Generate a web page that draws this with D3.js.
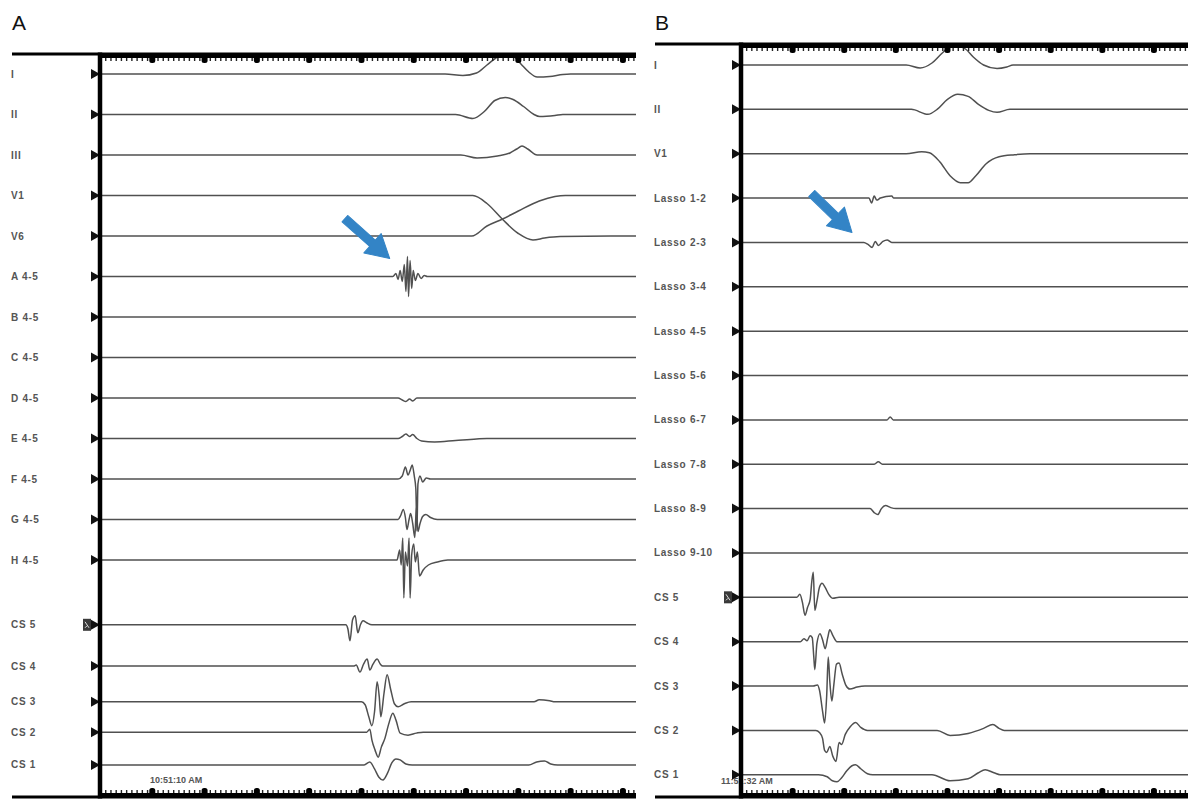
<!DOCTYPE html>
<html>
<head>
<meta charset="utf-8">
<script src="https://cdn.jsdelivr.net/npm/d3@7"></script>
<style>
  body { margin: 0; background: #fff; }
  svg { display: block; font-family: "Liberation Sans", Arial, sans-serif; }
  .lbl { font-size: 10px; font-weight: bold; fill: #555; letter-spacing: 0.7px; }
  .trace { fill: none; stroke: #505050; stroke-width: 1.5; stroke-linejoin: round; }
  .stamp { font-size: 9px; font-weight: bold; fill: #555; }
  .panel-id { font-size: 21px; fill: #111; }
</style>
</head>
<body>
<svg id="chart" width="1188" height="802"></svg>
<script>
// ---- data: panel A (ms, amplitude units) ----
const labelsA = ["I", "II", "III", "V1", "V6", "A 4-5", "B 4-5", "C 4-5", "D 4-5", "E 4-5",
                 "F 4-5", "G 4-5", "H 4-5", "CS 5", "CS 4", "CS 3", "CS 2", "CS 1"];
// channel slot on the recorder screen (row units)
const rowsA = [0, 1, 2, 3, 4, 5, 6, 7, 8, 9, 10, 11, 12, 13.6, 14.62, 15.5, 16.25, 17.06];
const tracesA = [
  [[0,0],[660,0],[694,-0.15],[720,0.1],[740,0.9],[760,1.7],[775,2.0],[790,1.8],[805,1.0],[820,0.2],[836,-0.3],[860,-0.25],[885,-0.05],[900,0],[1025,0]],
  [[0,0],[680,0],[713,-0.4],[735,0.3],[755,1.4],[775,1.7],[790,1.5],[810,0.8],[830,0],[841,-0.2],[870,-0.1],[885,0],[1025,0]],
  [[0,0],[690,0],[721,-0.3],[760,-0.1],[784,0.2],[797,0.6],[807,0.9],[818,0.6],[836,0],[1025,0]],
  [[0,0],[713,0],[740,-0.8],[770,-2.4],[800,-3.8],[828,-4.45],[850,-4.25],[880,-4.1],[1025,-4.05]],
  [[0,0],[711,0],[740,1.0],[770,1.7],[800,2.5],[840,3.5],[870,3.95],[890,4.05],[1025,4.05]],
  [[0,0],[560,0],[566,0.3],[570,-0.3],[574,0.6],[578,-0.5],[582,1.2],[585,-1.5],[588,2.0],[590,-2.0],[593,1.6],[596,-1.2],[599,0.6],[603,-0.4],[608,0.3],[614,-0.2],[620,0.1],[626,0],[1025,0]],
  [[0,0],[1025,0]],
  [[0,0],[1025,0]],
  [[0,0],[570,0],[578,-0.2],[585,-0.35],[592,-0.1],[598,-0.3],[606,0],[1025,0]],
  [[0,0],[570,0],[578,0.2],[585,0.45],[592,0.2],[598,0.4],[606,0],[615,-0.25],[640,-0.35],[680,-0.2],[720,-0.05],[740,0],[1025,0]],
  [[0,0],[570,0],[578,0.3],[584,1.2],[589,0.4],[594,1.0],[597,1.4],[601,0.3],[604,-1.0],[606,-5.2],[608,-0.5],[612,0.3],[617,-0.3],[624,0.1],[632,0],[1025,0]],
  [[0,0],[570,0],[575,0.4],[580,1.0],[584,0.2],[587,-1.0],[591,0],[594,0.6],[598,-0.4],[602,-1.8],[605,1.2],[608,-1.2],[612,-0.4],[617,0.3],[623,0.5],[632,0.2],[645,0],[1025,0]],
  [[0,0],[568,0],[573,1.0],[576,-0.5],[579,2.2],[581,-3.8],[584,0.8],[588,-0.6],[591,2.2],[593,-3.8],[596,0.5],[600,1.6],[603,-0.2],[607,0.8],[611,-1.6],[618,-1.0],[628,-0.5],[645,-0.2],[665,0],[1025,0]],
  [[0,0],[470,0],[474,-0.4],[478,-1.6],[483,0.5],[488,0.9],[493,-0.8],[498,0],[503,0.4],[510,0.2],[520,0],[1025,0]],
  [[0,0],[485,0],[490,0.1],[497,-0.6],[504,0.2],[511,0.7],[516,-0.4],[522,0.2],[530,0.7],[536,0.2],[541,0],[1025,0]],
  [[0,0],[500,0],[507,-0.3],[514,-1.5],[520,-2.4],[525,-1.0],[530,2.0],[534,0.5],[537,-1.5],[543,0.8],[549,2.7],[556,1.2],[563,-0.2],[570,-0.5],[582,-0.2],[595,0],[830,0],[840,0.2],[860,0.1],[870,0],[1025,0]],
  [[0,0],[510,0],[516,0.3],[520,-0.8],[526,-1.8],[532,-2.5],[538,-1.5],[545,-0.6],[552,0.8],[560,1.9],[566,1.2],[574,-0.1],[589,-0.3],[605,-0.1],[618,0],[1025,0]],
  [[0,0],[505,0],[516,0.3],[525,-0.4],[533,-1.2],[541,-1.5],[550,-0.8],[558,0.2],[566,0.6],[574,0.5],[585,0.1],[597,0],[820,0],[835,0.3],[850,0.4],[862,0.1],[875,0],[1025,0]]
];

// ---- data: panel B ----
const labelsB = ["I", "II", "V1", "Lasso 1-2", "Lasso 2-3", "Lasso 3-4", "Lasso 4-5", "Lasso 5-6",
                 "Lasso 6-7", "Lasso 7-8", "Lasso 8-9", "Lasso 9-10", "CS 5", "CS 4", "CS 3", "CS 2", "CS 1"];
const rowsB = [0, 1, 2, 3, 4, 5, 6, 7, 8, 9, 10, 11, 12, 13, 14, 15, 16];
const tracesB = [
  [[0,0],[320,0],[347,-0.3],[370,0.2],[390,1.2],[405,1.8],[420,1.9],[435,1.6],[450,0.8],[470,0],[496,-0.35],[515,-0.2],[527,0],[866,0]],
  [[0,0],[330,0],[362,-0.5],[380,0],[400,1.0],[420,1.5],[440,1.3],[460,0.5],[480,-0.1],[496,-0.3],[521,0],[866,0]],
  [[0,0],[320,0],[350,0.2],[365,0.1],[385,-0.8],[405,-2.2],[425,-2.9],[440,-2.9],[455,-2.2],[475,-1.0],[500,-0.3],[530,-0.1],[560,0],[866,0]],
  [[0,0],[248,0],[253,-0.5],[258,0.2],[263,-0.2],[270,0],[292,0.2],[296,0],[866,0]],
  [[0,0],[238,0],[246,-0.2],[254,-0.5],[260,0.1],[266,-0.3],[275,0.1],[283,0.25],[292,0],[866,0]],
  [[0,0],[866,0]],
  [[0,0],[866,0]],
  [[0,0],[866,0]],
  [[0,0],[283,0],[289,0.3],[295,0],[866,0]],
  [[0,0],[258,0],[266,0.25],[274,0],[866,0]],
  [[0,0],[250,0],[258,-0.4],[265,-0.6],[272,0],[280,0.3],[290,0.1],[300,0],[866,0]],
  [[0,0],[866,0]],
  [[0,0],[108,0],[114,0.3],[119,-0.5],[124,-1.8],[129,-1.0],[134,-0.2],[137,1.5],[140,2.5],[143,-1.3],[147,-0.4],[152,1.0],[157,1.4],[163,1.0],[170,0.3],[178,-0.1],[190,0],[866,0]],
  [[0,0],[115,0],[122,0.3],[128,0.1],[134,0.6],[138,0.4],[141,-1.5],[143,-2.8],[147,-0.2],[153,0.8],[158,0.2],[163,-0.7],[168,0.4],[172,1.2],[178,0.6],[186,0],[866,0]],
  [[0,0],[140,0],[148,0.1],[152,-0.4],[158,-2.5],[162,-3.7],[166,-1.0],[169,2.9],[172,0.5],[176,-1.5],[180,0.2],[185,2.2],[190,2.3],[196,1.2],[203,0.1],[211,-0.3],[225,-0.1],[240,0],[866,0]],
  [[0,0],[145,0],[152,-0.2],[158,-0.8],[162,-2.0],[166,-2.2],[172,-1.6],[178,-2.6],[184,-3.1],[190,-1.2],[195,-1.4],[202,-0.4],[212,0.4],[222,0.8],[232,0.3],[245,0],[380,0],[405,-0.5],[440,-0.3],[470,0.2],[488,0.6],[500,0.2],[510,0],[866,0]],
  [[0,0],[150,0],[167,-0.2],[177,-0.6],[186,-0.7],[195,-0.3],[205,0.4],[215,0.9],[222,1.0],[232,0.6],[245,0.1],[255,0],[370,0],[405,-0.6],[440,-0.4],[460,0.2],[473,0.5],[490,0.2],[502,0],[866,0]]
];

const spanA = [0, 1025];
const spanB = [0, 866];
const stampA = "10:51:10 AM";
const stampB = "11:51:32 AM";
const stimRow = "CS 5";

// ---- layout ----
const svg = d3.select("#chart");

const panels = [
  { id: "A", labels: labelsA, rows: rowsA, traces: tracesA, span: spanA, stamp: stampA,
    left: 12, axisX: 100, right: 636, top: 54, bottom: 797, y0: 74, rowStep: 40.5,
    idY: 30, stampX: 150, stampY: 783, arrow: { t: 554, row: 5, dy: -18, angle: 41.6, len: 60 } },
  { id: "B", labels: labelsB, rows: rowsB, traces: tracesB, span: spanB, stamp: stampB,
    left: 655, axisX: 741, right: 1188, top: 44, bottom: 797, y0: 65, rowStep: 44.36,
    idY: 30, stampX: 721, stampY: 784, arrow: { t: 215, row: 4, dy: -10, angle: 44, len: 56 } }
];

const amp = d3.scaleLinear().domain([0, 1]).range([0, -10]);

function drawPanel(p) {
  const g = svg.append("g").attr("class", "panel-" + p.id);
  const x = d3.scaleLinear().domain(p.span).range([p.axisX, p.right]);
  const rowY = d3.scaleLinear().domain([0, 1]).range([p.y0, p.y0 + p.rowStep]);

  g.append("text").attr("class", "panel-id")
    .attr("x", p.left).attr("y", p.idY).text(p.id);

  const line = d3.line()
    .x(d => x(d[0]))
    .y(d => amp(d[1]))
    .curve(d3.curveMonotoneX);

  const ch = g.selectAll("g.ch")
    .data(p.labels.map((name, i) => ({ name, row: p.rows[i], pts: p.traces[i] })))
    .join("g")
      .attr("class", "ch")
      .attr("transform", d => `translate(0,${rowY(d.row)})`);

  ch.append("path").attr("class", "trace").attr("d", d => line(d.pts));

  ch.append("text").attr("class", "lbl")
    .attr("x", p.left - 1).attr("y", 3.5)
    .text(d => d.name);

  // channel markers
  ch.append("path")
    .attr("d", `M${p.axisX - 9},-5 L${p.axisX},0 L${p.axisX - 9},5 Z`)
    .attr("fill", "#111");

  // stimulation box on CS 5
  const stim = ch.filter(d => d.name === stimRow);
  stim.append("rect")
    .attr("x", p.axisX - 17).attr("y", -6).attr("width", 8).attr("height", 12)
    .attr("fill", "#3a3a3a");
  stim.append("path")
    .attr("d", `M${p.axisX - 15},-3 L${p.axisX - 11},3 M${p.axisX - 15},3 L${p.axisX - 13},1`)
    .attr("stroke", "#ddd").attr("stroke-width", 1).attr("fill", "none");

  // timestamp (drawn before the axis so the axis line covers it)
  g.append("text").attr("class", "stamp")
    .attr("x", p.stampX).attr("y", p.stampY).text(p.stamp);

  // frame lines
  g.append("line")
    .attr("x1", p.left).attr("x2", p.right).attr("y1", p.top).attr("y2", p.top)
    .attr("stroke", "#000").attr("stroke-width", 3);
  g.append("line")
    .attr("x1", p.left).attr("x2", p.right).attr("y1", p.bottom).attr("y2", p.bottom)
    .attr("stroke", "#000").attr("stroke-width", 3);

  // rulers
  const minor = d3.range(p.span[0] + 10, p.span[1], 10);
  const major = d3.range(p.span[0] + 100, p.span[1], 100);

  g.append("rect").attr("x", p.axisX).attr("y", p.top)
    .attr("width", p.right - p.axisX).attr("height", 4).attr("fill", "#000");
  g.append("rect").attr("x", p.axisX).attr("y", p.bottom - 4)
    .attr("width", p.right - p.axisX).attr("height", 4).attr("fill", "#000");

  const topAxis = g.append("g").attr("transform", `translate(0,${p.top + 4})`)
    .call(d3.axisBottom(x).tickValues(minor).tickSize(3).tickFormat(""));
  const botAxis = g.append("g").attr("transform", `translate(0,${p.bottom - 4})`)
    .call(d3.axisTop(x).tickValues(minor).tickSize(3).tickFormat(""));
  [topAxis, botAxis].forEach(a => {
    a.select(".domain").remove();
    a.selectAll("line").attr("stroke", "#222").attr("stroke-width", 1.4);
  });

  g.selectAll("rect.maj-top").data(major).join("rect")
    .attr("class", "maj-top")
    .attr("x", d => x(d) - 3).attr("y", p.top + 2)
    .attr("width", 6).attr("height", 7).attr("rx", 2.5).attr("fill", "#000");
  g.selectAll("rect.maj-bot").data(major).join("rect")
    .attr("class", "maj-bot")
    .attr("x", d => x(d) - 3).attr("y", p.bottom - 9)
    .attr("width", 6).attr("height", 7).attr("rx", 2.5).attr("fill", "#000");

  // thick left axis
  g.append("line")
    .attr("x1", p.axisX).attr("x2", p.axisX).attr("y1", p.top - 1.5).attr("y2", p.bottom + 1.5)
    .attr("stroke", "#000").attr("stroke-width", 4.5);

  // blue arrow annotation
  const a = p.arrow;
  const L = a.len, hl = 23, hw = 13, sw = 8.5;
  const tx = x(a.t), ty = rowY(a.row) + a.dy;
  g.append("path")
    .attr("d", `M0,0 L${-hl},${hw} L${-hl},${sw / 2} L${-L},${sw / 2} L${-L},${-sw / 2} L${-hl},${-sw / 2} L${-hl},${-hw} Z`)
    .attr("transform", `translate(${tx},${ty}) rotate(${a.angle})`)
    .attr("fill", "#3384c6")
    .attr("stroke", "#3384c6").attr("stroke-width", 1).attr("stroke-linejoin", "round");
}

panels.forEach(drawPanel);
</script>
</body>
</html>
